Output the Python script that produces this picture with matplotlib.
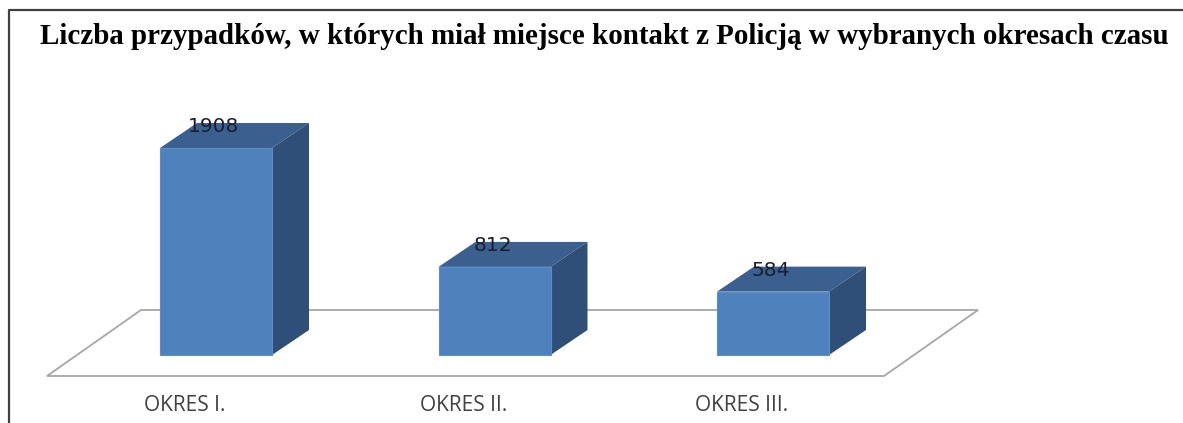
import matplotlib
matplotlib.use('Agg')
import matplotlib.pyplot as plt
from matplotlib.patches import Polygon

categories = ['OKRES I.', 'OKRES II.', 'OKRES III.']
values = [1908, 812, 584]
title = 'Liczba przypadków, w których miał miejsce kontakt z Policją w wybranych okresach czasu'

W, H = 1183, 423
px_x = 278.5       # one category step in pixels
px_y = 0.1085      # pixels per unit of value
x0, y0 = 216, 355  # pixel of first bar centre / value 0

fig = plt.figure(figsize=(W / 100, H / 100), dpi=100)
ax = fig.add_axes([0, 0, 1, 1])
ax.set_xlim(-x0 / px_x, (W - x0) / px_x)
ax.set_ylim(-(H - y0) / px_y, y0 / px_y)
ax.axis('off')

# depth of the fake 3d boxes
dx = 37 / px_x
dy = 25 / px_y
half = 56 / px_x

# floor
floor = [(47, 376), (884, 376), (978, 310), (141, 310)]
floor = [((a - x0) / px_x, (y0 - b) / px_y) for a, b in floor]
ax.add_patch(Polygon(floor, closed=True, fc='white', ec='#a6a6a6', lw=1.3, zorder=1))

for i, v in enumerate(values):
    ax.bar(i, v, width=2 * half, color='#4f81bd', edgecolor='#5b8cc6', lw=0.8, zorder=3)
    top = [(i - half, v), (i + half, v), (i + half + dx, v + dy), (i - half + dx, v + dy)]
    side = [(i + half, 0), (i + half + dx, dy), (i + half + dx, v + dy), (i + half, v)]
    ax.add_patch(Polygon(top, closed=True, fc='#3b5f8f', ec='none', zorder=2))
    ax.add_patch(Polygon(side, closed=True, fc='#2f4f78', ec='none', zorder=2))
    ax.text(i - 2 / px_x, v + 21 / px_y, str(v), ha='center', va='center',
            fontsize=14.5, family='DejaVu Sans', color='#1a1f2b', zorder=4)
    ax.text(i - 31 / px_x, -50 / px_y, categories[i], ha='center', va='center',
            fontsize=15, family='Open Sans', color='#404040')

fig.text(40 / W, 1 - 37 / H, title, ha='left', va='center', fontsize=20.85,
         family='Liberation Serif', weight='bold', color='black')

# frame of the screenshot, only left and top
fig.add_artist(plt.Line2D([9 / W, 9 / W, 1], [0, 1 - 10 / H, 1 - 10 / H],
                          color='#404040', lw=1.6))

fig.savefig('out.png', dpi=100)
